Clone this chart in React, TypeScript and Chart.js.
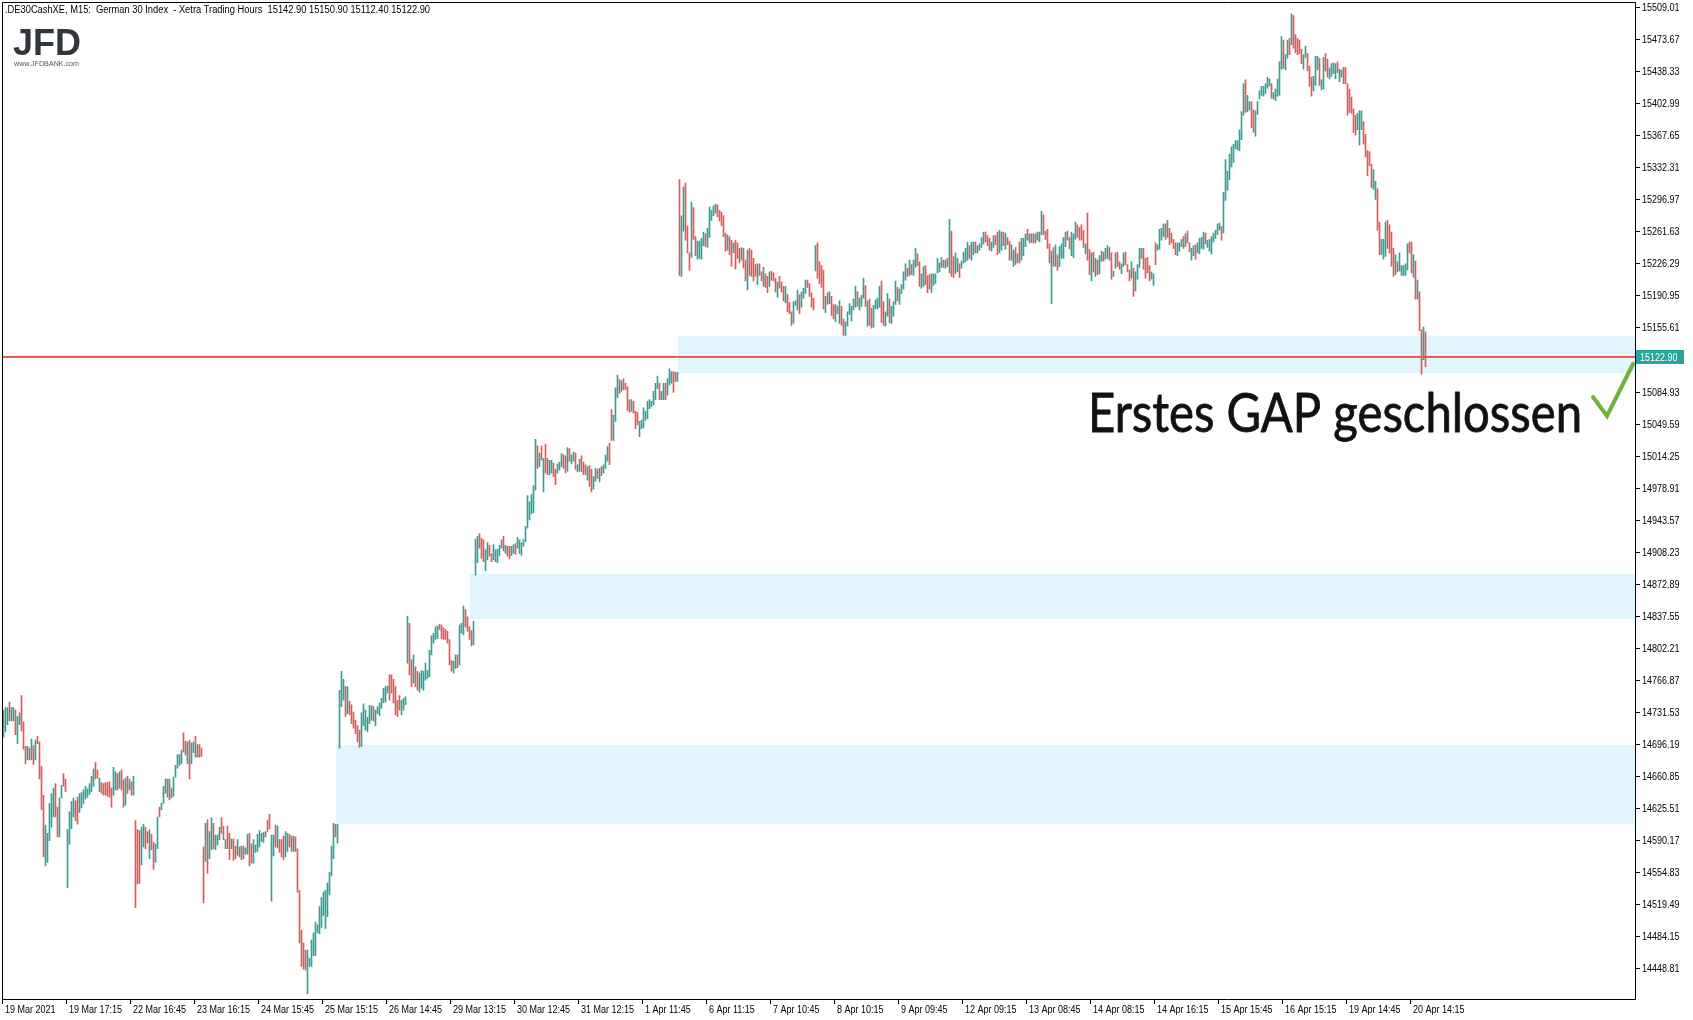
import React, { useEffect, useRef } from 'react';
import { Chart, registerables } from 'chart.js';

Chart.register(...registerables);

// ---------- DATA (M15 bars: [high, low, up(1)/down(0)]) ----------
const barsMar19to22 = [
  [14733,14703,1],[14736,14709,1],[14736,14717,1],[14742,14721,0],[14736,14721,1],[14736,14721,1],[14733,14706,0],[14726,14696,1],[14730,14717,1],[14749,14710,0],
  [14720,14690,0],[14693,14674,0],[14693,14678,1],[14691,14678,0],[14701,14678,1],[14694,14673,0],[14700,14678,1],[14704,14696,0],[14698,14657,0],[14671,14623,0],
  [14639,14571,0],[14606,14561,1],[14597,14565,1],[14630,14589,1],[14641,14604,1],[14647,14615,1],[14652,14615,0],[14626,14593,0],[14636,14593,1],[14650,14636,1],
  [14663,14649,0],[14657,14643,0],
  [14601,14537,1],[14621,14585,1],[14632,14602,1],[14636,14615,1],[14633,14611,0],[14637,14607,0],[14641,14620,1],[14642,14625,1],[14645,14630,1],[14649,14635,1],
  [14646,14637,1],[14652,14640,1],[14660,14643,1],[14668,14649,1],[14675,14657,0],[14667,14658,0],[14658,14643,1],[14653,14641,0],[14652,14639,0],[14653,14639,0],
  [14653,14638,0],[14654,14637,0],[14647,14626,0],[14670,14639,1],[14665,14645,1],[14663,14645,0],[14665,14647,1],[14667,14645,0],[14656,14626,0],[14658,14628,1],
  [14660,14641,0],[14657,14645,1],[14654,14639,0],[14660,14639,1],
];
const barsMar22to23 = [
  [14611,14515,0],[14601,14541,0],[14600,14542,0],[14604,14562,1],[14607,14582,1],[14604,14580,0],[14599,14586,0],[14601,14569,1],[14596,14579,0],[14587,14557,0],
  [14585,14565,1],[14615,14580,1],[14626,14615,0],[14630,14623,1],[14649,14630,1],[14657,14641,1],[14657,14637,0],[14657,14634,1],[14647,14636,0],[14659,14638,1],
  [14672,14659,1],[14684,14669,1],[14684,14672,1],[14689,14674,1],[14708,14687,0],[14699,14683,0],[14698,14674,1],[14700,14657,0],[14697,14674,1],[14698,14686,1],
  [14704,14681,0],[14695,14681,1],[14695,14681,0],[14691,14682,0],
];
const barsMar23to25 = [
  [14582,14520,0],[14608,14566,1],[14612,14553,0],[14599,14569,1],[14614,14579,1],[14608,14580,0],[14595,14579,1],[14595,14584,1],[14604,14590,1],[14614,14597,0],
  [14605,14590,0],[14590,14580,1],[14605,14580,0],[14597,14568,0],[14591,14580,1],[14591,14567,0],[14583,14569,0],[14590,14573,1],[14582,14571,0],[14583,14568,1],
  [14583,14569,0],[14581,14574,1],[14596,14574,1],[14597,14561,0],[14585,14564,0],[14590,14564,1],[14584,14576,1],[14596,14577,1],[14600,14582,1],[14597,14588,1],
  [14598,14587,1],[14599,14593,0],[14611,14599,0],[14618,14602,0],
  [14595,14522,1],[14595,14572,1],[14606,14582,0],[14605,14581,1],[14590,14576,0],[14590,14571,0],[14594,14568,0],[14599,14571,1],[14597,14577,1],[14596,14582,0],
  [14594,14577,0],[14594,14577,1],[14593,14577,0],[14580,14532,0],[14534,14476,0],[14490,14450,0],[14476,14447,0],[14468,14446,0],[14468,14420,1],[14459,14450,1],
  [14479,14450,1],[14487,14462,1],[14499,14462,1],[14496,14487,1],[14516,14486,1],[14526,14493,1],[14532,14506,1],[14534,14492,1],[14542,14505,1],[14554,14529,1],
  [14583,14550,1],[14608,14569,1],[14607,14593,0],[14607,14586,1],
];
const barsMar25to26 = [
  [14755,14691,1],[14776,14737,1],[14767,14744,1],[14759,14726,0],[14759,14729,1],[14743,14728,0],[14739,14718,0],[14731,14713,0],[14722,14707,0],[14716,14698,0],
  [14711,14692,0],[14730,14693,1],[14740,14716,1],[14733,14711,1],[14725,14709,1],[14738,14718,1],[14738,14722,1],[14737,14721,0],[14733,14716,1],[14737,14729,1],
  [14741,14727,1],[14746,14735,1],[14757,14741,1],[14759,14742,1],[14760,14752,1],[14772,14744,0],[14772,14752,0],[14767,14741,0],[14759,14728,0],[14744,14726,0],
  [14749,14733,0],[14744,14728,1],[14746,14733,1],[14748,14739,1],
  [14837,14785,1],[14829,14772,0],[14789,14759,0],[14794,14763,1],[14781,14759,0],[14776,14755,0],[14774,14753,1],[14777,14757,1],[14776,14755,1],[14785,14766,1],
  [14777,14768,1],[14799,14770,1],[14815,14794,1],[14818,14807,1],[14825,14811,1],[14826,14812,1],[14828,14822,0],[14827,14812,0],[14824,14811,0],[14822,14811,0],
  [14820,14807,0],[14811,14783,0],[14788,14776,0],[14787,14774,1],[14794,14779,1],[14794,14780,0],[14827,14783,1],[14829,14818,1],[14848,14816,1],[14844,14825,0],
  [14836,14820,0],[14825,14811,0],[14821,14804,0],[14831,14805,1],
];
const barsMar29toApr1 = [
  [14922,14882,1],[14925,14896,1],[14928,14912,0],[14923,14901,0],[14921,14897,0],[14910,14887,1],[14918,14899,1],[14915,14903,0],[14906,14897,0],[14916,14899,1],
  [14910,14897,1],[14911,14896,1],[14915,14904,1],[14921,14912,1],[14925,14909,0],[14915,14906,1],[14914,14903,0],[14914,14900,0],[14914,14904,1],[14916,14906,1],
  [14917,14905,0],[14924,14912,1],[14921,14906,1],[14918,14904,1],[14921,14914,1],[14936,14919,1],[14970,14934,1],[14963,14943,1],[14971,14950,1],[14981,14951,1],
  [15032,14976,1],[15025,15000,0],[15017,15002,1],[15025,15009,0],
  [15011,14974,1],[15027,14995,0],[15011,14993,0],[15009,14993,1],[15009,14995,1],[15006,14991,0],[14999,14982,0],[15005,14995,1],[15007,14998,1],[15016,15002,1],
  [15015,15000,0],[15014,14995,0],[15023,14997,1],[15022,15008,0],[15015,15005,1],[15018,15008,1],[15017,14999,0],[15004,14996,1],[15010,14997,1],[15014,14996,0],
  [15007,14993,0],[15004,14993,0],[15002,14987,1],[15003,14980,0],[14999,14974,0],[14991,14977,1],[15000,14986,1],[14999,14989,0],[15000,14985,1],[15002,14992,0],
  [15004,14995,1],[15015,15000,1],[15024,15008,1],[15028,15004,0],
  [15065,15031,0],[15059,15031,1],[15089,15052,1],[15103,15078,1],[15098,15083,0],[15097,15085,1],[15099,15087,0],[15094,15087,0],[15090,15064,0],[15076,15062,0],
  [15076,15063,1],[15074,15061,0],[15063,15044,0],[15062,15048,0],[15052,15035,1],[15053,15044,1],[15067,15045,1],[15063,15053,1],[15074,15055,1],[15076,15066,1],
  [15074,15068,1],[15085,15070,1],[15094,15076,1],[15102,15088,1],[15094,15076,0],[15085,15076,1],[15094,15076,1],[15094,15076,0],[15099,15081,1],[15110,15092,1],
  [15107,15094,1],[15107,15084,0],[15106,15096,0],[15106,15096,1],
];
const barsApr6to7 = [
  [15319,15213,0],[15279,15212,1],[15311,15262,1],[15315,15252,0],[15268,15238,0],[15238,15219,0],[15294,15233,1],[15288,15253,0],[15256,15235,0],[15251,15231,1],
  [15251,15232,1],[15254,15231,1],[15261,15246,1],[15259,15245,0],[15265,15244,1],[15289,15255,1],[15285,15274,1],[15290,15279,1],[15292,15282,1],[15291,15278,0],
  [15285,15273,0],[15283,15268,0],[15279,15256,0],[15260,15240,0],[15258,15241,1],[15256,15236,0],[15252,15223,0],[15249,15238,1],[15252,15220,0],[15249,15232,0],
  [15243,15227,0],[15244,15230,1],[15243,15221,0],[15230,15207,0],
  [15241,15197,1],[15243,15213,0],[15241,15212,0],[15232,15207,0],[15225,15212,0],[15226,15203,1],[15226,15213,0],[15217,15207,0],[15222,15201,1],[15215,15200,0],
  [15212,15194,0],[15217,15201,1],[15218,15208,0],[15216,15207,0],[15210,15195,0],[15206,15189,1],[15212,15199,0],[15206,15195,0],[15201,15185,0],[15201,15183,1],
  [15192,15173,0],[15183,15171,0],[15173,15158,0],[15184,15160,1],[15185,15180,1],[15197,15175,1],[15192,15171,0],[15195,15178,1],[15199,15188,1],[15208,15193,1],
  [15208,15200,0],[15204,15190,0],[15194,15178,0],[15188,15175,0],
];
const barsApr7to9 = [
  [15246,15218,1],[15249,15210,0],[15228,15204,0],[15224,15200,0],[15219,15176,0],[15190,15172,1],[15194,15181,0],[15195,15182,1],[15190,15169,0],[15181,15165,0],
  [15181,15162,1],[15179,15171,0],[15185,15160,1],[15179,15158,0],[15165,15147,0],[15162,15147,1],[15173,15157,1],[15182,15170,1],[15179,15163,1],[15187,15175,1],
  [15201,15178,1],[15195,15179,0],[15188,15175,1],[15191,15179,1],[15210,15188,1],[15202,15179,0],[15185,15157,1],[15187,15158,0],[15177,15155,0],[15180,15156,1],
  [15186,15176,1],[15188,15176,1],[15201,15178,1],[15207,15161,0],
  [15184,15158,0],[15173,15157,1],[15193,15168,1],[15187,15161,0],[15179,15160,1],[15184,15168,1],[15207,15181,1],[15200,15185,0],[15198,15181,1],[15203,15193,1],
  [15217,15198,1],[15226,15208,1],[15221,15212,0],[15230,15213,1],[15225,15214,0],[15230,15213,1],[15243,15222,1],[15237,15224,0],[15228,15201,0],[15215,15199,1],
  [15223,15201,1],[15224,15203,0],[15213,15194,0],[15214,15198,0],[15215,15194,1],[15215,15202,1],[15215,15204,1],[15232,15216,1],[15227,15217,1],[15233,15222,1],
  [15230,15222,0],[15230,15221,1],[15232,15223,0],[15275,15216,1],
];
const barsApr9to13 = [
  [15262,15212,0],[15234,15211,0],[15238,15215,1],[15232,15217,1],[15226,15211,0],[15229,15221,1],[15239,15227,1],[15243,15228,1],[15250,15230,1],[15246,15232,0],
  [15250,15230,1],[15250,15236,1],[15250,15238,0],[15246,15238,1],[15248,15241,1],[15255,15244,1],[15261,15248,1],[15261,15250,0],[15257,15246,0],[15254,15241,0],
  [15250,15240,1],[15257,15244,1],[15257,15247,0],[15261,15236,0],[15263,15238,1],[15261,15241,1],[15261,15246,0],[15260,15242,1],[15255,15247,0],[15251,15230,0],
  [15247,15230,1],[15241,15223,1],[15244,15225,0],[15237,15227,1],
  [15250,15227,0],[15254,15230,1],[15254,15235,1],[15259,15245,1],[15264,15252,0],[15259,15249,1],[15259,15249,0],[15259,15249,1],[15259,15249,0],[15261,15252,1],
  [15261,15250,1],[15284,15258,1],[15280,15258,0],[15262,15253,0],[15264,15243,0],[15248,15227,0],[15240,15182,1],[15244,15223,0],[15247,15223,1],[15236,15219,0],
  [15245,15223,1],[15248,15232,1],[15255,15232,1],[15261,15245,1],[15262,15252,0],[15255,15242,0],[15261,15235,1],[15259,15233,1],[15272,15253,1],[15269,15255,0],
  [15266,15252,0],[15269,15252,0],[15263,15244,0],[15248,15237,1],
];
const barsApr13to15 = [
  [15282,15230,0],[15242,15214,0],[15238,15207,1],[15239,15217,0],[15232,15212,1],[15230,15214,0],[15235,15215,1],[15240,15229,1],[15239,15229,0],[15243,15231,1],
  [15246,15232,1],[15244,15230,0],[15238,15209,0],[15218,15212,1],[15238,15221,1],[15239,15223,0],[15228,15220,0],[15226,15215,1],[15238,15223,1],[15239,15225,0],
  [15225,15217,0],[15219,15207,0],[15228,15210,1],[15221,15190,0],[15217,15196,1],[15225,15209,1],[15243,15222,1],[15243,15232,1],[15243,15220,0],[15232,15210,0],
  [15233,15216,0],[15224,15207,0],[15217,15209,1],[15215,15202,1],
  [15249,15225,0],[15247,15241,1],[15264,15242,1],[15265,15252,1],[15270,15256,1],[15270,15253,0],[15274,15255,1],[15265,15247,0],[15260,15249,0],[15253,15243,0],
  [15249,15236,0],[15249,15235,1],[15249,15240,1],[15253,15245,1],[15256,15243,0],[15259,15245,1],[15262,15249,0],[15249,15239,0],[15243,15230,1],[15246,15235,1],
  [15247,15231,0],[15249,15238,1],[15254,15237,1],[15255,15243,1],[15261,15242,1],[15260,15248,0],[15252,15244,1],[15253,15240,1],[15256,15237,1],[15260,15250,1],
  [15263,15254,1],[15270,15258,1],[15271,15263,1],[15267,15252,0],
];
const barsApr15to16 = [
  [15305,15260,1],[15341,15296,1],[15328,15307,1],[15347,15319,1],[15355,15333,1],[15358,15338,1],[15362,15353,1],[15362,15352,1],[15374,15351,1],[15394,15363,1],
  [15425,15390,1],[15429,15393,0],[15412,15394,1],[15405,15396,1],[15405,15376,0],[15396,15371,0],[15395,15367,1],[15405,15391,1],[15417,15408,1],[15422,15412,1],
  [15422,15411,1],[15425,15414,1],[15432,15420,1],[15430,15422,1],[15425,15409,0],[15415,15408,1],[15419,15406,1],[15430,15411,1],[15449,15412,1],[15477,15441,1],
  [15473,15442,0],[15457,15440,1],[15473,15453,1],[15475,15457,0],
  [15502,15468,1],[15500,15464,0],[15479,15459,0],[15475,15457,0],[15473,15458,0],[15463,15447,0],[15457,15441,1],[15466,15454,1],[15458,15439,0],[15444,15422,0],
  [15432,15411,0],[15433,15417,1],[15455,15423,1],[15455,15440,1],[15453,15423,0],[15429,15418,1],[15454,15419,1],[15458,15439,0],[15452,15432,0],[15442,15430,1],
  [15447,15433,1],[15448,15436,1],[15447,15430,1],[15449,15437,0],[15441,15427,1],[15440,15432,1],[15443,15425,0],[15443,15425,0],[15425,15390,0],[15419,15393,0],
  [15410,15392,0],[15397,15371,0],[15390,15368,0],[15392,15374,1],
];
const barsApr19to20 = [
  [15395,15357,1],[15395,15374,1],[15383,15358,0],[15369,15344,0],[15351,15323,0],[15350,15334,0],[15336,15310,0],[15330,15308,1],[15317,15297,1],[15309,15263,0],
  [15272,15236,0],[15253,15236,1],[15253,15231,1],[15272,15234,1],[15274,15243,0],[15269,15238,0],[15261,15223,0],[15243,15212,0],[15236,15214,1],[15228,15217,0],
  [15238,15218,1],[15224,15213,1],[15224,15213,1],[15226,15213,1],[15248,15219,1],[15250,15238,0],[15250,15216,0],[15236,15211,1],[15229,15187,0],[15208,15187,1],
  [15195,15152,0],[15153,15104,0],[15156,15120,1],[15150.9,15112.4,0],
];

const xTickLabels = [
  '19 Mar 2021','19 Mar 17:15','22 Mar 16:45','23 Mar 16:15','24 Mar 15:45','25 Mar 15:15','26 Mar 14:45',
  '29 Mar 13:15','30 Mar 12:45','31 Mar 12:15','1 Apr 11:45','6 Apr 11:15','7 Apr 10:45','8 Apr 10:15',
  '9 Apr 09:45','12 Apr 09:15','13 Apr 08:45','14 Apr 08:15','14 Apr 16:15','15 Apr 15:45','16 Apr 15:15',
  '19 Apr 14:45','20 Apr 14:15',
];
const xTickEveryBars = 32;

const yTickLabels = [
  '15509.01','15473.67','15438.33','15402.99','15367.65','15332.31','15296.97','15261.63','15226.29','15190.95',
  '15155.61','15084.93','15049.59','15014.25','14978.91','14943.57','14908.23','14872.89','14837.55','14802.21',
  '14766.87','14731.53','14696.19','14660.85','14625.51','14590.17','14554.83','14519.49','14484.15','14448.81',
];

// gap zones: start (bar position), low, high
const gapZoneStart = [166.25, 233.25, 337.25];
const gapZoneLow = [14607, 14834, 15105];
const gapZoneHigh = [14694.5, 14883, 15146];

const lastPrice = 15122.9;
const lastPriceLabel = '15122.90';
const titleText = '.DE30CashXE, M15:  German 30 Index  - Xetra Trading Hours  15142.90 15150.90 15112.40 15122.90';
const annotationText = 'Erstes GAP geschlossen';

const Y_MIN = 14414.03;
const Y_MAX = 15515.08;
const TOTAL_SLOTS = 816;

const UP = '#26a69a';
const DOWN = '#ef5350';
const ZONE = '#e1f5fe';

const W = 1693;
const H = 1020;
const FRAME_L = 2;
const FRAME_T = 2;
const FRAME_R = 1635;
const FRAME_B = 999;
const SMALL_FONT = '10px "Liberation Sans", Arial, sans-serif';

function drawText(ctx: any, text: string, x: number, y: number, font: string, color: string, sx: number, baseline = 'alphabetic', strokeW = 0) {
  ctx.save();
  ctx.font = font;
  ctx.fillStyle = color;
  ctx.textAlign = 'left';
  ctx.textBaseline = baseline;
  ctx.translate(x, y);
  ctx.scale(sx, 1);
  ctx.fillText(text, 0, 0);
  if (strokeW > 0) {
    ctx.strokeStyle = color;
    ctx.lineWidth = strokeW;
    ctx.lineJoin = 'round';
    ctx.strokeText(text, 0, 0);
  }
  ctx.restore();
}

function fitText(ctx: any, text: string, x: number, y: number, font: string, color: string, width: number, strokeW = 0) {
  ctx.save();
  ctx.font = font;
  const w = ctx.measureText(text).width;
  ctx.restore();
  drawText(ctx, text, x, y, font, color, width / w, 'alphabetic', strokeW);
}

const overlayPlugin = {
  id: 'mtOverlay',
  beforeDraw(chart: any) {
    const ctx = chart.ctx;
    ctx.save();
    ctx.fillStyle = '#ffffff';
    ctx.fillRect(0, 0, chart.width, chart.height);
    ctx.restore();
  },
  beforeDatasetsDraw(chart: any) {
    const { ctx, chartArea, scales } = chart;
    const bw = (chartArea.right - chartArea.left) / TOTAL_SLOTS;
    ctx.save();
    ctx.fillStyle = ZONE;
    for (let k = 0; k < gapZoneStart.length; k++) {
      const x0 = Math.round(chartArea.left + (gapZoneStart[k] + 0.5) * bw);
      const yt = Math.round(scales.y.getPixelForValue(gapZoneHigh[k]));
      const yb = Math.round(scales.y.getPixelForValue(gapZoneLow[k]));
      ctx.fillRect(x0, yt, FRAME_R - x0, yb - yt);
    }
    ctx.restore();
  },
  afterDatasetsDraw(chart: any) {
    const { ctx, chartArea, scales } = chart;
    const ys = scales.y;
    const bw = (chartArea.right - chartArea.left) / TOTAL_SLOTS;

    // last price line
    const yl = Math.round(ys.getPixelForValue(lastPrice));
    ctx.save();
    ctx.fillStyle = '#e5534b';
    ctx.fillRect(FRAME_L, yl - 1, FRAME_R - FRAME_L, 1);
    ctx.fillStyle = '#6a9a95';
    ctx.fillRect(FRAME_L, yl, FRAME_R - FRAME_L, 1);
    ctx.restore();

    // frame
    ctx.save();
    ctx.strokeStyle = '#000000';
    ctx.lineWidth = 1;
    ctx.beginPath();
    ctx.rect(FRAME_L + 0.5, FRAME_T + 0.5, FRAME_R - FRAME_L, FRAME_B - FRAME_T);
    ctx.stroke();

    // y ticks
    ctx.beginPath();
    for (const t of yTickLabels) {
      const y = Math.round(ys.getPixelForValue(parseFloat(t))) + 0.5;
      ctx.moveTo(FRAME_R, y);
      ctx.lineTo(FRAME_R + 5, y);
    }
    // x ticks
    xTickLabels.forEach((_, k) => {
      const x = Math.round(chartArea.left + (k * xTickEveryBars + 0.5) * bw - 1.5) + 0.5;
      ctx.moveTo(x, FRAME_B);
      ctx.lineTo(x, FRAME_B + 5);
    });
    ctx.stroke();
    ctx.restore();

    for (const t of yTickLabels) {
      const y = Math.round(ys.getPixelForValue(parseFloat(t))) + 1;
      drawText(ctx, t, FRAME_R + 7, y, SMALL_FONT, '#000000', 0.9, 'middle');
    }
    xTickLabels.forEach((lab, k) => {
      const x = Math.round(chartArea.left + (k * xTickEveryBars + 0.5) * bw - 1.5);
      drawText(ctx, lab, x + 3, 1013, SMALL_FONT, '#000000', 0.9);
    });

    // last price label
    ctx.save();
    ctx.fillStyle = UP;
    ctx.fillRect(FRAME_R + 1, yl - 7, 48, 14);
    ctx.restore();
    drawText(ctx, lastPriceLabel, FRAME_R + 5, yl + 1, SMALL_FONT, '#ffffff', 0.9, 'middle');

    // title
    fitText(ctx, titleText, 5, 13, SMALL_FONT, '#000000', 425);

    // logo
    fitText(ctx, 'JFD', 13, 55, 'bold 37px "Liberation Sans", Arial, sans-serif', '#30363c', 68);
    fitText(ctx, 'www.JFDBANK.com', 14, 66, '7px "Liberation Sans", Arial, sans-serif', '#555555', 65);

    // annotation
    fitText(ctx, annotationText, 1088, 432, '54px Lato, "Noto Sans", sans-serif', '#111111', 494, 0.8);

    // check mark
    ctx.save();
    ctx.strokeStyle = '#6db33f';
    ctx.lineWidth = 4;
    ctx.lineCap = 'round';
    ctx.lineJoin = 'miter';
    ctx.beginPath();
    ctx.moveTo(1593, 397);
    ctx.lineTo(1607, 416);
    ctx.lineTo(1633, 364);
    ctx.stroke();
    ctx.restore();
  },
};

export default function App() {
  const canvasRef = useRef<HTMLCanvasElement | null>(null);

  useEffect(() => {
    document.body.style.margin = '0';
    const canvas = canvasRef.current;
    if (!canvas) return;
    const bars = [
      ...barsMar19to22, ...barsMar22to23, ...barsMar23to25, ...barsMar25to26, ...barsMar29toApr1,
      ...barsApr6to7, ...barsApr7to9, ...barsApr9to13, ...barsApr13to15, ...barsApr15to16, ...barsApr19to20,
    ];
    const labels: string[] = [];
    const values: any[] = [];
    const colors: string[] = [];
    for (let i = 0; i < TOTAL_SLOTS; i++) {
      labels.push(String(i));
      if (i < bars.length) {
        values.push([bars[i][1], bars[i][0]]);
        colors.push(bars[i][2] ? UP : DOWN);
      } else {
        values.push(null);
        colors.push(UP);
      }
    }
    const chart = new Chart(canvas, {
      type: 'bar',
      data: {
        labels,
        datasets: [
          {
            data: values,
            backgroundColor: colors,
            borderWidth: 0,
            barThickness: 1,
            grouped: false,
          } as any,
        ],
      },
      options: {
        animation: false,
        responsive: false,
        devicePixelRatio: 1,
        layout: { padding: { left: 2.5, right: W - 1634.5, top: 2, bottom: H - FRAME_B } },
        plugins: { legend: { display: false }, tooltip: { enabled: false } },
        scales: {
          x: { display: false, grid: { display: false }, offset: true },
          y: { display: false, min: Y_MIN, max: Y_MAX, grid: { display: false } },
        },
      } as any,
      plugins: [overlayPlugin],
    });
    return () => chart.destroy();
  }, []);

  return (
    <div style={{ position: 'absolute', left: 0, top: 0, width: W, height: H }}>
      <canvas ref={canvasRef} width={W} height={H} style={{ display: 'block', width: W, height: H }} />
    </div>
  );
}
